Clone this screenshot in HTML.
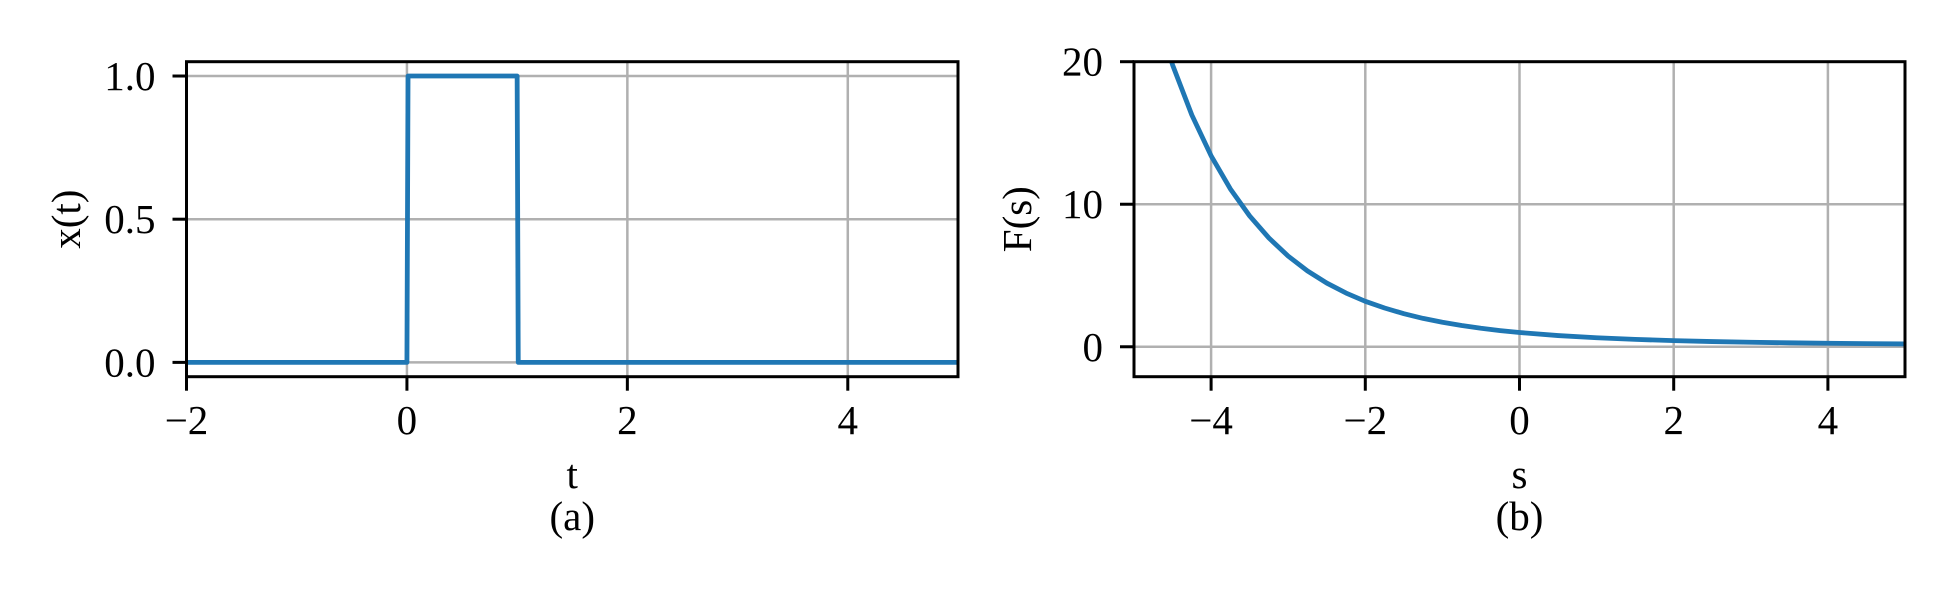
<!DOCTYPE html>
<html><head><meta charset="utf-8"><style>
html,body{margin:0;padding:0;background:#fff;}
svg{display:block;font-family:"Liberation Serif","DejaVu Serif",serif;}
</style></head><body>
<svg id="fig" width="1950" height="600" viewBox="0 0 1950 600" xmlns="http://www.w3.org/2000/svg"></svg>
<script>
// Panel (a) data
const tValues = [-2, 0, 0.01, 1, 1.01, 5];
const xValues = [0, 0, 1, 1, 0, 0];
const aXTicks = [-2, 0, 2, 4];
const aXTickLabels = ["\u22122", "0", "2", "4"];
const aYTicks = [0, 0.5, 1.0];
const aYTickLabels = ["0.0", "0.5", "1.0"];
// Panel (b) data
const sValues = [-4.53, -4.5, -4.25, -4, -3.75, -3.5, -3.25, -3, -2.75, -2.5, -2.25, -2, -1.75, -1.5, -1.25, -1, -0.75, -0.5, -0.25, 0, 0.5, 1, 1.5, 2, 2.5, 3, 3.5, 4, 4.5, 5];
const fValues = [20.3, 19.78, 16.26, 13.40, 11.07, 9.18, 7.63, 6.36, 5.32, 4.47, 3.77, 3.19, 2.72, 2.32, 1.99, 1.718, 1.489, 1.297, 1.136, 1.0, 0.787, 0.632, 0.518, 0.432, 0.367, 0.317, 0.277, 0.245, 0.220, 0.199];
const bXTicks = [-4, -2, 0, 2, 4];
const bXTickLabels = ["\u22124", "\u22122", "0", "2", "4"];
const bYTicks = [0, 10, 20];
const bYTickLabels = ["0", "10", "20"];

const NS = "http://www.w3.org/2000/svg";
const svg = document.getElementById("fig");
function el(tag, attrs, parent) {
  const e = document.createElementNS(NS, tag);
  for (const k in attrs) e.setAttribute(k, attrs[k]);
  (parent || svg).appendChild(e);
  return e;
}

function panel(cfg) {
  const g = el("g", {});
  
  
  const L = cfg.left, R = cfg.right, T = 61.7, B = 376.7;
  const sx = v => L + (v - cfg.xmin) / (cfg.xmax - cfg.xmin) * (R - L);
  const sy = v => B - (v - cfg.ymin) / (cfg.ymax - cfg.ymin) * (B - T);
  const clip = el("clipPath", {id: cfg.name + "-clip"}, g);
  el("rect", {x: L, y: T, width: R - L, height: B - T}, clip);
  cfg.xt.forEach((v) => {
    const ln = el("line", {x1: sx(v), x2: sx(v), y1: T, y2: B, stroke: "#b0b0b0", "stroke-width": 2.5}, g);
    
    
  });
  cfg.yt.forEach((v) => {
    const ln = el("line", {x1: L, x2: R, y1: sy(v), y2: sy(v), stroke: "#b0b0b0", "stroke-width": 2.5}, g);
    
    
  });
  const pts = cfg.xs.map((x, i) => sx(x).toFixed(2) + "," + sy(cfg.ys[i]).toFixed(2)).join(" ");
  const pl = el("polyline", {points: pts, fill: "none", stroke: "#1f77b4", "stroke-width": 4.8, "stroke-linejoin": "round", "stroke-linecap": "square", "clip-path": "url(#" + cfg.name + "-clip)"}, g);
  
  
  const fr = el("rect", {x: L, y: T, width: R - L, height: B - T, fill: "none", stroke: "#000", "stroke-width": 3}, g);
  
  
  cfg.xt.forEach((v, i) => {
    el("line", {x1: sx(v), x2: sx(v), y1: B, y2: B + 14, stroke: "#000", "stroke-width": 3}, g);
    const tx = el("text", {x: sx(v), y: 434, "text-anchor": "middle", "font-size": 41}, g);
    tx.textContent = cfg.xtl[i];
    
    
  });
  cfg.yt.forEach((v, i) => {
    el("line", {x1: L - 14, x2: L, y1: sy(v), y2: sy(v), stroke: "#000", "stroke-width": 3}, g);
    const tx = el("text", {x: L - 31, y: sy(v) + 14, "text-anchor": "end", "font-size": 41}, g);
    tx.textContent = cfg.ytl[i];
    
    
  });
  const cx = (L + R) / 2;
  const xl = el("text", {x: cx, y: 488, "text-anchor": "middle", "font-size": 41}, g);
  xl.textContent = cfg.xlabel;
  
  
  const cap = el("text", {x: cx, y: 530, "text-anchor": "middle", "font-size": 41}, g);
  cap.textContent = cfg.caption;
  
  
  const yl = el("text", {x: 0, y: 0, "text-anchor": "middle", "font-size": 41, transform: "translate(" + cfg.ylx + "," + ((T + B) / 2) + ") rotate(-90)"}, g);
  yl.textContent = cfg.ylabel;
  
  
}

panel({name: "panel-a", seriesName: "rect-pulse-line", left: 186.5, right: 958, xmin: -2, xmax: 5, ymin: -0.05, ymax: 1.05,
  xs: tValues, ys: xValues, xt: aXTicks, xtl: aXTickLabels, yt: aYTicks, ytl: aYTickLabels,
  xlabel: "t", ylabel: "x(t)", caption: "(a)", ylx: 80});
panel({name: "panel-b", seriesName: "laplace-curve", left: 1134, right: 1905, xmin: -5, xmax: 5, ymin: -2.1, ymax: 20,
  xs: sValues, ys: fValues, xt: bXTicks, xtl: bXTickLabels, yt: bYTicks, ytl: bYTickLabels,
  xlabel: "s", ylabel: "F(s)", caption: "(b)", ylx: 1031});
</script>
</body></html>
